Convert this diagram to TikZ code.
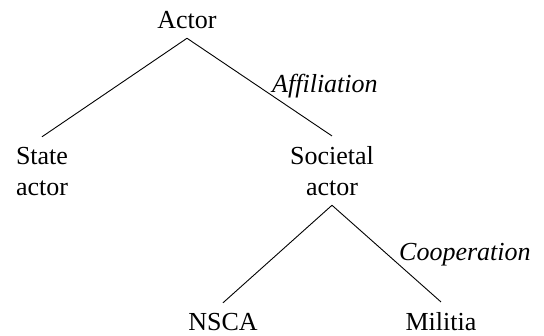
\documentclass[tikz,border=0pt]{standalone}
\usepackage{fontspec}
\setmainfont{Liberation Serif}
\begin{document}
\begin{tikzpicture}[x=1pt,y=-1pt,
  txt/.style={font=\fontsize{26pt}{31pt}\selectfont},
  word/.style={txt, inner sep=10pt, outer sep=0pt, align=center, anchor=base},
  lbl/.style={inner sep=0pt, anchor=base west, font=\fontsize{26pt}{31pt}\selectfont\itshape},
  branch/.style={line width=0.9pt}]
  \useasboundingbox (0,0) rectangle (544,335);
  % upper level (two-line nodes sit on the baseline of their last line)
  \node[word] (actor) at (187,28) {Actor};
  \node[word] (state) at (42,195) {State\\actor};
  \node[word] (soc) at (332,195) {Societal\\actor};
  % lower level
  \node[word] (nsca) at (223,330) {NSCA};
  \node[word] (militia) at (441,330) {Militia};
  % branches
  \draw[branch] (actor.south) -- (state.north);
  \draw[branch] (actor.south) -- (soc.north);
  \draw[branch] (soc.south) -- (nsca.north);
  \draw[branch] (soc.south) -- (militia.north);
  % edge labels
  \node[lbl] (aff) at (272,92) {Affiliation};
  \node[lbl] (coop) at (399,260) {Cooperation};
\end{tikzpicture}
\end{document}
